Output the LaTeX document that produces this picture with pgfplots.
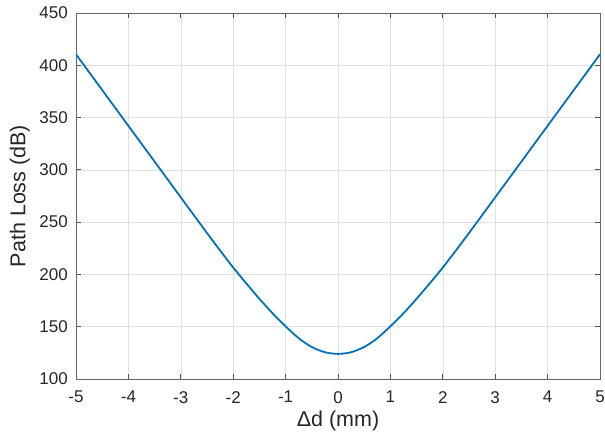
\documentclass[border=0pt]{standalone}
\usepackage{pgfplots}
\pgfplotsset{compat=1.18}
\usepackage{fontspec}
\setmainfont{Liberation Sans}
\definecolor{mblue}{HTML}{0072BD}
\definecolor{axgray}{HTML}{262626}
\pgfplotstableread{
x y
-5 410.5
-4.75 393.4
-4.5 376.3
-4.25 359.2
-4 342.1
-3.75 325
-3.5 307.9
-3.25 290.8
-3 273.7
-2.75 256.6
-2.5 239.6
-2.25 222.9
-2 206.6
-1.75 191.4
-1.5 176.7
-1.25 162.9
-1 150.4
-0.75 139
-0.5 130.6
-0.25 125.6
0 124
0.25 125.6
0.5 130.6
0.75 139
1 150.4
1.25 162.9
1.5 176.7
1.75 191.4
2 206.6
2.25 222.9
2.5 239.6
2.75 256.6
3 273.7
3.25 290.8
3.5 307.9
3.75 325
4 342.1
4.25 359.2
4.5 376.3
4.75 393.4
5 410.5
}\datatable
\begin{document}
\begin{tikzpicture}
\begin{axis}[
  scale only axis,
  width=524pt, height=366pt,
  xmin=-5, xmax=5, ymin=100, ymax=450,
  xtick={-5,-4,-3,-2,-1,0,1,2,3,4,5},
  xticklabels={-5,-4,-3,-2,-1,0,1,2,3,4,5},
  ytick={100,150,200,250,300,350,400,450},
  yticklabels={100,150,200,250,300,350,400,450},
  grid=major,
  major grid style={draw=black!12, line width=0.6pt},
  axis line style={draw=axgray!70, line width=0.8pt},
  tick style={draw=axgray!80, line width=0.8pt},
  tick align=inside,
  major tick length=5pt,
  ticklabel style={font=\fontsize{17}{20}\selectfont, text=axgray},
  yticklabel style={inner sep=0pt, xshift=-8pt},
  xticklabel style={inner sep=0pt, yshift=-12pt},
  xlabel={Δd (mm)},
  ylabel={Path Loss (dB)},
  label style={font=\fontsize{21.5}{24}\selectfont, text=axgray},
  xlabel style={at={(axis description cs:0.5,-0.115)}, anchor=center},
  ylabel style={at={(axis description cs:-0.107,0.5)}, anchor=center},
]
\addplot[mblue, line width=1.8pt, smooth] table[x=x,y=y] {\datatable};
\end{axis}
\pgfresetboundingbox
\path[use as bounding box] (-76pt,-56pt) rectangle (529pt,379pt);
\end{tikzpicture}
\end{document}
